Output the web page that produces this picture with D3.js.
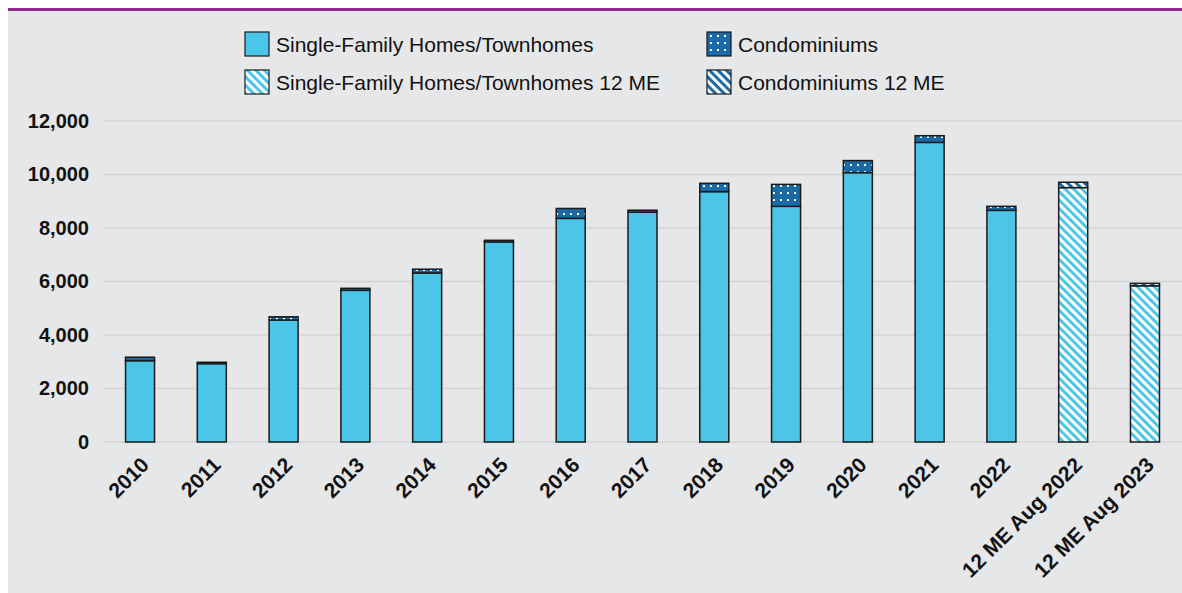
<!DOCTYPE html>
<html>
<head>
<meta charset="utf-8">
<script src="https://cdn.jsdelivr.net/npm/d3@7"></script>
<style>
  html, body { margin: 0; padding: 0; background: #fff; }
  svg { display: block; font-family: "Liberation Sans", Arial, sans-serif; }
</style>
</head>
<body>
<svg id="chart" width="1182" height="593"></svg>
<script>
// values
let categories = ["2010", "2011", "2012", "2013", "2014", "2015", "2016", "2017",
  "2018", "2019", "2020", "2021", "2022", "12 ME Aug 2022", "12 ME Aug 2023"];
let singleFamily = [3040, 2930, 4560, 5670, 6320, 7480, 8360, 8590, 9360, 8810, 10070, 11200, 8660, 9510, 5840];
let condos = [130, 50, 120, 75, 140, 60, 370, 75, 310, 820, 450, 250, 150, 200, 90];
let twelveMonth = [false, false, false, false, false, false, false, false, false, false, false, false, false, true, true];
let yTicks = [0, 2000, 4000, 6000, 8000, 10000, 12000];
let legendLabels = ["Single-Family Homes/Townhomes", "Condominiums",
  "Single-Family Homes/Townhomes 12 ME", "Condominiums 12 ME"];

const W = 1182, H = 593;
const cyan = "#4bc6e8", navy = "#1a6aa8", panel = "#e6e7e9";
const svg = d3.select("#chart");
const defs = svg.append("defs");

// dotted fill for condos
let dots = defs.append("pattern").attr("id", "dots")
  .attr("patternUnits", "userSpaceOnUse").attr("width", 7).attr("height", 7);
dots.append("rect").attr("width", 7).attr("height", 7).attr("fill", navy);
dots.append("rect").attr("x", 3).attr("y", 3).attr("width", 2).attr("height", 2).attr("fill", "#fff");

// diagonal stripes for the 12 month figures
function stripes(id, color) {
  let p = defs.append("pattern").attr("id", id)
    .attr("patternUnits", "userSpaceOnUse").attr("width", 6).attr("height", 6)
    .attr("patternTransform", "rotate(-45)");
  p.append("rect").attr("width", 6).attr("height", 6).attr("fill", "#fff");
  p.append("rect").attr("width", 3).attr("height", 6).attr("fill", color);
}
stripes("hatchSingle", cyan);
stripes("hatchCondo", navy);

// background panel + purple rule
svg.append("rect").attr("x", 8).attr("y", 11).attr("width", W - 8).attr("height", H - 11).attr("fill", panel);
svg.append("rect").attr("x", 8).attr("y", 8).attr("width", W - 8).attr("height", 3).attr("fill", "#8e2a8c");

const margin = {left: 104, right: 1, top: 121, bottom: 151};
let x = d3.scaleBand().domain(categories).range([margin.left, W - margin.right])
  .paddingInner(0.596).paddingOuter(0.3);
let y = d3.scaleLinear().domain([0, 12000]).range([H - margin.bottom, margin.top]);

// gridlines
svg.append("g").selectAll("line").data(yTicks).join("line")
  .attr("x1", margin.left).attr("x2", W)
  .attr("y1", d => y(d)).attr("y2", d => y(d))
  .attr("stroke", "#d4d4d4").attr("stroke-width", 1.5);

// y axis labels
let yAxis = d3.axisLeft(y).tickValues(yTicks).tickFormat(d3.format(",")).tickSize(0).tickPadding(0);
let gy = svg.append("g").attr("transform", `translate(89,0)`).call(yAxis);
gy.select(".domain").remove();
gy.selectAll("text").attr("font-size", 20).attr("font-weight", "bold").attr("fill", "#111")
  .attr("font-family", "Liberation Sans, Arial, sans-serif");

// bars
let rows = categories.map((c, i) => ({c, s: singleFamily[i], k: condos[i], m: twelveMonth[i]}));
let bars = svg.append("g");
bars.selectAll("rect.sf").data(rows).join("rect").attr("class", "sf")
  .attr("x", d => x(d.c)).attr("width", x.bandwidth())
  .attr("y", d => y(d.s)).attr("height", d => y(0) - y(d.s))
  .attr("fill", d => d.m ? "url(#hatchSingle)" : cyan)
  .attr("stroke", "#1a1a1a").attr("stroke-width", 1.5);
bars.selectAll("rect.co").data(rows).join("rect").attr("class", "co")
  .attr("x", d => x(d.c)).attr("width", x.bandwidth())
  .attr("y", d => y(d.s + d.k)).attr("height", d => y(d.s) - y(d.s + d.k))
  .attr("fill", d => d.m ? "url(#hatchCondo)" : "url(#dots)")
  .attr("stroke", "#1a1a1a").attr("stroke-width", 1.5);

// x labels, rotated
svg.append("g").selectAll("text").data(categories).join("text")
  .attr("transform", d => `translate(${x(d) + x.bandwidth() / 2 + 5},${y(0) + 19}) rotate(-45)`)
  .attr("text-anchor", "end").attr("dy", "0.35em")
  .attr("font-size", 21).attr("font-weight", "bold").attr("fill", "#111")
  .text(d => d);

// legend
let legendItems = [
  {label: legendLabels[0], fill: cyan, x: 245, y: 32},
  {label: legendLabels[1], fill: "url(#dots)", x: 707, y: 32},
  {label: legendLabels[2], fill: "url(#hatchSingle)", x: 245, y: 70},
  {label: legendLabels[3], fill: "url(#hatchCondo)", x: 707, y: 70}
];
let lg = svg.append("g").selectAll("g").data(legendItems).join("g")
  .attr("transform", d => `translate(${d.x},${d.y})`);
lg.append("rect").attr("width", 24).attr("height", 24).attr("fill", d => d.fill)
  .attr("stroke", "#1a1a1a").attr("stroke-width", 1.2);
lg.append("text").attr("x", 31).attr("y", 20).attr("font-size", 21).attr("fill", "#111")
  .text(d => d.label);
</script>
</body>
</html>
